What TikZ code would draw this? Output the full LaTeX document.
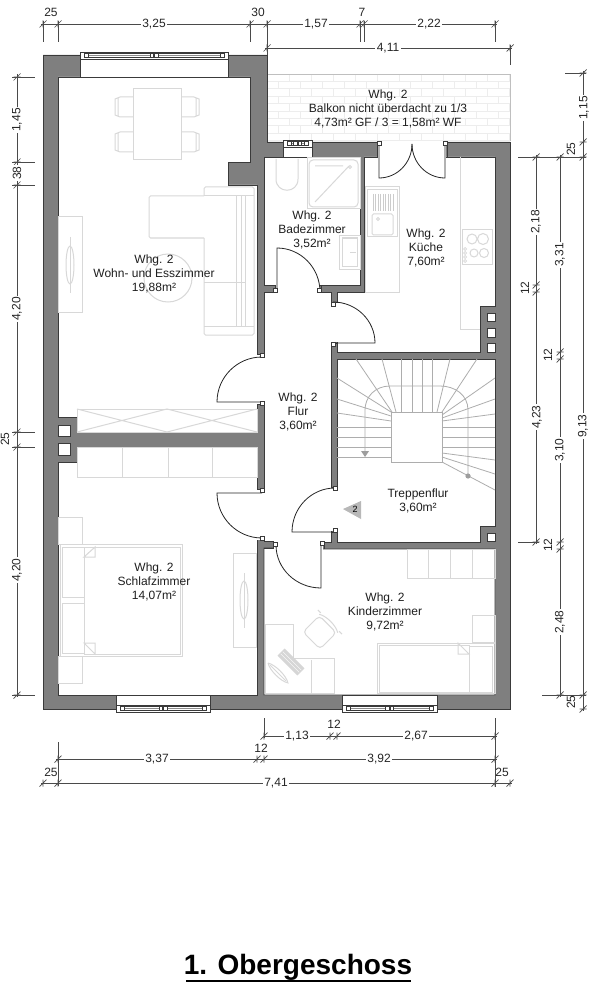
\documentclass[tikz,border=0pt]{standalone}
\usepackage{fontspec}
\setmainfont{Liberation Sans}
\definecolor{wallc}{HTML}{7F7F7F}
\definecolor{linec}{HTML}{3A3A3A}
\definecolor{furn}{HTML}{D8D8D8}
\definecolor{brick}{HTML}{EDEDED}
\definecolor{dimc}{HTML}{4A4A4A}
\tikzset{
  wall/.style={fill=wallc,draw=linec,line width=.7pt,line join=miter},
  room/.style={fill=white,draw=linec,line width=.9pt,line join=miter},
  open/.style={fill=white,draw=none},
  furniture/.style={draw=furn,line width=1pt,fill=none},
  doorline/.style={draw=black!85,line width=.8pt},
  jamb/.style={fill=white,draw=linec,line width=.6pt},
  treadline/.style={draw=black!32,line width=.8pt},
  dimline/.style={draw=dimc,line width=.7pt},
  label/.style={align=center,inner sep=0pt,font=\fontsize{12}{13.9}\selectfont,text=black!88},
  dimh/.style={inner sep=1.5pt,fill=white,font=\fontsize{12}{14}\selectfont,text=black!85},
  dimv/.style={dimh,rotate=90},
  dimtop/.style={inner sep=0pt,font=\fontsize{12}{14}\selectfont,text=black!85},
  dimside/.style={dimtop,rotate=90},
}
\newcommand\door[6]{%
  \draw[doorline] (#1,#2) -- ({#1+#3},{#2+#4})
    .. controls ({#1+#3+.552*#5},{#2+#4+.552*#6}) and ({#1+#5+.552*#3},{#2+#6+.552*#4}) .. ({#1+#5},{#2+#6});}
\newcommand\jambat[2]{\draw[jamb] ({#1-1.8},{#2-2}) rectangle ({#1+1.8},{#2+2});}
\newcommand\win[5]{% x1 x2 stripTop stripBottom inner
  \pgfmathsetmacro\wm{(#1+#2)/2}
  \ifnum#5>#4\relax \path[open] (#1,#4) rectangle (#2,#5); \draw[draw=linec,line width=.8pt] (#1,#4) rectangle (#2,#5);
  \else \path[open] (#1,#5) rectangle (#2,#3); \draw[draw=linec,line width=.8pt] (#1,#5) rectangle (#2,#3); \fi
  \draw[fill=white,draw=linec,line width=.7pt] (#1,#3) rectangle (#2,#4);
  \draw[draw=linec,line width=.9pt] ({#1+5},{#3+1.5}) -- ({#2-5},{#3+1.5}) ({#1+5},{#4-1.5}) -- ({#2-5},{#4-1.5});
  \draw[draw=black!45,line width=.7pt] ({#1+5},{(#3+#4)/2}) -- ({#2-5},{(#3+#4)/2});
  \foreach \wx in {{#1+6},{\wm-2.2},{\wm+2.2},{#2-6}} {\draw[jamb] ({\wx-1.8},{(#3+#4)/2-2}) rectangle ({\wx+1.8},{(#3+#4)/2+2});}
}
\newcommand\chairL[2]{\draw[furniture] (#1,#2) -- ({#1-13},{#2}) -- ({#1-18},{#2+2}) -- ({#1-18},{#2+18}) -- ({#1-13},{#2+20}) -- (#1,{#2+20}) ({#1-15},{#2+1}) -- ({#1-15},{#2+19});}
\newcommand\chairR[2]{\draw[furniture] (#1,#2) -- ({#1+13},{#2}) -- ({#1+18},{#2+2}) -- ({#1+18},{#2+18}) -- ({#1+13},{#2+20}) -- (#1,{#2+20}) ({#1+15},{#2+1}) -- ({#1+15},{#2+19});}
\begin{document}
\begin{tikzpicture}[x=1pt,y=-1pt]
\useasboundingbox (0,0) rectangle (601,1000);
% balcony
\begin{scope}
\clip (267,74) rectangle (510,141);
\foreach \r in {0,...,9} {
  \draw[brick,line width=.6pt] (267,{74+7.4*\r}) -- (510,{74+7.4*\r});
  \pgfmathsetmacro\off{mod(\r,2)*11}
  \foreach \c in {0,...,11} {\draw[brick,line width=.6pt] ({267+\off+22*\c},{74+7.4*\r}) -- ({267+\off+22*\c},{74+7.4*\r+7.4});}
}
\end{scope}
\draw[draw=black!25,line width=.8pt] (267,141) -- (267,74) -- (510,74) -- (510,141);
% building body
\draw[wall] (43,55) -- (267,55) -- (267,142) -- (510,142) -- (510,709) -- (43,709) -- cycle;
% rooms
\draw[room] (58,77) -- (250,77) -- (250,162) -- (228,162) -- (228,185) -- (257,185) -- (257,432) -- (77,432) -- (77,417) -- (58,417) -- cycle;
\draw[room] (58,462) -- (77,462) -- (77,447) -- (257,447) -- (257,695) -- (58,695) -- cycle;
\draw[room] (264,157) -- (360,157) -- (360,285) -- (264,285) -- cycle;
\draw[room] (264,292) -- (331,292) -- (331,542) -- (324,542) -- (324,541) -- (264,541) -- cycle;
\draw[room] (337,292) -- (364,292) -- (364,157) -- (495,157) -- (495,306) -- (480,306) -- (480,352) -- (337,352) -- cycle;
\draw[room] (337,359) -- (495,359) -- (495,526) -- (480,526) -- (480,542) -- (337,542) -- cycle;
\draw[room] (264,548) -- (324,549) -- (495,549) -- (495,695) -- (264,695) -- cycle;
% door openings
\path[open] (256,354) rectangle (265,404);
\path[open] (256,489) rectangle (265,540);
\path[open] (276,284) rectangle (320,293);
\path[open] (330,303) rectangle (338,342);
\path[open] (330,488) rectangle (338,531);
\path[open] (274,540) rectangle (323,550);
\path[open] (378,141) rectangle (446,158);
\draw[draw=linec,line width=.9pt] (257,354) -- (264,354) (257,404) -- (264,404) (257,489) -- (264,489);
% wall fragments that frame the openings
\draw[draw=linec,line width=.9pt] (264,541) -- (273,541) -- (273,548) -- (264,548);
\draw[draw=linec,line width=.9pt] (264,285) -- (275,285) -- (275,292) -- (264,292);
\draw[draw=linec,line width=.9pt] (321,285) -- (321,292);
\draw[draw=linec,line width=.9pt] (324,542) -- (324,549);
\draw[draw=linec,line width=.9pt] (331,302) -- (337,302) (331,343) -- (337,343) (331,487) -- (337,487) (331,532) -- (337,532);
\draw[draw=linec,line width=.9pt] (377,142) -- (377,157) (447,142) -- (447,157);
% flue squares
\foreach \a/\b/\c/\d in {58/425/70/436,58/443/70/455,487/313/495/321,487/328/495/337,487/343/495/352,487/533/495/541}
  \draw[fill=white,draw=linec,line width=.8pt] (\a,\b) rectangle (\c,\d);
% windows
\win{80}{228}{52}{59}{77}
\win{116}{210}{705}{712}{695}
\win{342}{437}{705}{712}{695}
\win{283}{312}{140}{147}{157}
% doors
\door{262}{402}{-45}{0}{0}{-45}
\door{262}{493}{-45}{0}{0}{45}
\door{277}{292}{0}{-44}{43}{0}
\door{333}{343}{42}{0}{0}{-41}
\door{379}{144}{0}{34}{33}{0}
\door{445}{144}{0}{34}{-33}{0}
\door{335}{532}{-43}{0}{0}{-44}
\door{321}{545}{0}{43}{-45}{0}
\foreach \a/\b in {262/355,262/403,262/490,262/538,275/290,319/290,333/304,333/344,379/143,445/143,335/488,335/530,275/544,322/543}
  \jambat{\a}{\b}
% dining
\draw[furniture] (133,89) rectangle (181,160);
\chairL{133}{97}\chairL{133}{132}\chairR{181}{97}\chairR{181}{132}
% sofa
\draw[furniture,rounded corners=1.5pt] (204,196) -- (149,196) -- (149,238) -- (204,238);
\draw[furniture,rounded corners=1.5pt] (204,196) -- (204,187) -- (254,187) -- (254,335) -- (204,335) -- (204,238);
\draw[furniture] (204,196) -- (254,196) (204,282) -- (245,282) (204,326) -- (254,326) (236,196) -- (236,326) (241,196) -- (241,326) (245,196) -- (245,326);
\draw[furniture] (168,278) circle[radius=24];
% TV units
\draw[furniture] (58,217) rectangle (82,312);
\draw[furniture] (70,265) ellipse[x radius=4,y radius=19];
\draw[furniture] (70,237) -- (70,293);
\draw[furniture] (233,553) rectangle (256,647);
\draw[furniture] (244,600) ellipse[x radius=4,y radius=19];
\draw[furniture] (244,573) -- (244,628);
% closets
\draw[furniture] (77,409) rectangle (257,432);
\draw[furniture] (77,432) -- (167,409) -- (257,432) (77,409) -- (167,432) -- (257,409);
\draw[furniture] (77,447) rectangle (257,477) (122,447) -- (122,477) (168,447) -- (168,477) (212,447) -- (212,477);
% bedroom
\draw[furniture] (60,544) rectangle (182,656);
\draw[furniture] (84,547) rectangle (180,654);
\draw[furniture] (84,557) -- (95,547) -- (95,557) -- cycle (84,643) -- (95,654) -- (95,643) -- cycle;
\draw[furniture] (62,547) rectangle (84,597) (62,603) rectangle (84,653);
\draw[furniture] (58,517) rectangle (82,544) (58,656) rectangle (82,683);
% children's room
\draw[furniture] (265,624) -- (293,624) -- (293,658) -- (334,658) -- (334,693) -- (265,693) -- cycle;
\draw[furniture] (311,660) -- (311,693);
\draw[furniture] (407,549) rectangle (495,578) (428,549) -- (428,578) (450,549) -- (450,578) (472,549) -- (472,578);
\draw[furniture] (472,615) rectangle (495,642);
\draw[furniture] (377,643) rectangle (495,693);
\draw[furniture] (379,645) rectangle (469,692);
\draw[furniture] (458,643) -- (469,654) -- (458,654) -- cycle;
\draw[furniture] (469,646) rectangle (492,692);
\begin{scope}[shift={(320,632)},rotate=-45]
  \draw[furniture,rounded corners=4pt] (-12,-11) rectangle (12,12);
  \draw[furniture] (-13,-12) .. controls (-7,-16) and (7,-16) .. (13,-12);
  \draw[furniture] (-17,-14) -- (-13,-14) (13,-14) -- (17,-14);
\end{scope}
\begin{scope}[shift={(291,662)},rotate=-45]
  \fill[black!16] (-14,-5) rectangle (14,5);
  \draw[white,line width=.5pt] (-13,-1.5) -- (13,-1.5) (-13,1.5) -- (13,1.5);
\end{scope}
\begin{scope}[shift={(278,673)},rotate=-45]
  \draw[furniture] (-14,0) .. controls (-8,-4) and (8,-4) .. (14,0) .. controls (8,4) and (-8,4) .. (-14,0);
  \draw[furniture] (-11,0) -- (11,0);
\end{scope}
% kitchen
\draw[furniture] (460,157) -- (460,329) -- (480,329);
\draw[furniture] (365,187) rectangle (399,292);
\draw[furniture] (367,190) rectangle (397,237);
\draw[furniture,rounded corners=1.5pt] (372,214) rectangle (393,235);
\draw[furniture] (378,219) circle[radius=1.5];
\foreach \x in {373,375.5,...,393} \draw[draw=black!20,line width=.7pt] (\x,194) -- (\x,211);
\draw[furniture] (462,230) rectangle (492,264);
\draw[furniture] (472,239) circle[radius=5] (483,239) circle[radius=5.5] (474,253) circle[radius=4] (484,253) circle[radius=4.5];
\foreach \y in {249,253,257,261} \draw[furniture,line width=.7pt] (465,\y) circle[radius=1.5];
% bathroom
\draw[furniture] (276,159) -- (276,179) .. controls (276,194) and (298,194) .. (298,179) -- (298,159);
\draw[furniture] (307,158) rectangle (360,209);
\draw[furniture,rounded corners=4pt] (309,160) rectangle (358,207);
\draw[furniture] (315,202) -- (349,166) (315,166) -- (343,166);
\draw[furniture] (350,167) circle[radius=1.5];
\draw[furniture] (339,236) rectangle (360,269);
\draw[furniture] (342,238) rectangle (357,266);
\draw[furniture] (350,252) -- (356,252);
% stairs
\begin{scope}
\draw[treadline] (391,412) rectangle (442,462);
\foreach \a/\b/\c/\d in {
 356/359/392/412, 382/359/396/412, 401/359/401/412, 412/359/412/412, 422/359/422/412, 432/359/432/412, 450/359/437/412, 477/359/442/412,
 337/378/391/412, 337/399/391/416, 337/413/391/421, 337/427/391/427, 337/437/391/437, 337/447/391/447, 337/457/391/457,
 495/378/442/415, 495/399/442/418, 495/414/442/421, 495/427/442/427, 495/437/442/437, 495/447/442/447, 495/460/442/453, 495/474/442/457, 495/490/442/462}
  \draw[treadline] (\a,\b) -- (\c,\d);
\draw[treadline] (468,476) -- (468,410) .. controls (468,395) and (455,386) .. (440,386) -- (390,386) .. controls (375,386) and (365,397) .. (365,410) -- (365,452);
\fill[black!38] (361,451) -- (369,451) -- (365,457) -- cycle;
\fill[black!38] (468,476) circle[radius=2.6];
\end{scope}
\fill[black!28] (343,509) -- (361,501) -- (361,519) -- cycle;
\node[font=\fontsize{9}{10}\selectfont,inner sep=0pt] (level) at (355,509) {2};
% room labels
\node[label] (balkon) at (388,109) {Whg. 2\\Balkon nicht überdacht zu 1/3\\4,73m² GF / 3 = 1,58m² WF};
\node[label] (bad) at (312,230) {Whg. 2\\Badezimmer\\3,52m²};
\node[label] (kueche) at (426,248) {Whg. 2\\Küche\\7,60m²};
\node[label] (wohn) at (154,274) {Whg. 2\\Wohn- und Esszimmer\\19,88m²};
\node[label] (flur) at (298,412) {Whg. 2\\Flur\\3,60m²};
\node[label] (treppe) at (418,501) {Treppenflur\\3,60m²};
\node[label] (schlaf) at (154,582) {Whg. 2\\Schlafzimmer\\14,07m²};
\node[label] (kinder) at (385,612) {Whg. 2\\Kinderzimmer\\9,72m²};
% dimension lines
\draw[dimline] (41,24) -- (497,24) (265,48) -- (512,48) (264,736) -- (497,736) (56,759) -- (497,759) (41,783) -- (512,783);
\draw[dimline] (17,74) -- (17,697) (536,155) -- (536,544) (560,155) -- (560,697) (583,71) -- (583,711);
\foreach \x in {43,58,250,360,364,495} \draw[dimline] (\x,21) -- (\x,42);
\draw[dimline] (267,21) -- (267,55) (510,45) -- (510,65);
\foreach \y in {77,162,185,432,447,695} \draw[dimline] (12,\y) -- (35,\y);
\draw[dimline] (518,157) -- (586,157) (565,73) -- (586,73) (518,542) -- (539,542) (542,695) -- (586,695);
\draw[dimline] (264,718) -- (264,738) (495,718) -- (495,787) (58,742) -- (58,786);
\foreach \x/\y in {43/24,58/24,250/24,267/24,360/24,364/24,495/24,267/48,510/48,264/736,330/736,337/736,495/736,58/759,257/759,264/759,495/759,43/783,58/783,495/783,510/783}
  \draw[dimline] ({\x-3.5},{\y+3.5}) -- ({\x+3.5},{\y-3.5}) (\x,{\y-3.5}) -- (\x,{\y+3.5});
\foreach \x/\y in {17/77,17/162,17/185,17/432,17/447,17/695,536/157,536/285,536/292,536/542,560/157,560/352,560/359,560/542,560/549,560/695,583/73,583/142,583/157,583/695,583/709}
  \draw[dimline] ({\x-3.5},{\y+3.5}) -- ({\x+3.5},{\y-3.5}) ({\x-3.5},\y) -- ({\x+3.5},\y);
\foreach \x/\y/\t [count=\i] in {154/24/{3,25},316/24/{1,57},429/24/{2,22},388/48/{4,11},297/736/{1,13},416/736/{2,67},157/759/{3,37},379/759/{3,92},276/783/{7,41}}
  \node[dimh] (dh\i) at (\x,\y) {\t};
\foreach \x/\y/\t [count=\i] in {17/120/{1,45},17/173/{38},17/309/{4,20},17/570/{4,20},536/222/{2,18},537/417/{4,23},560/255/{3,31},560/450/{3,10},560/622/{2,48},584/108/{1,15},583/426/{9,13}}
  \node[dimv] (dv\i) at (\x,\y) {\t};
\foreach \x/\y/\t [count=\i] in {51/12/{25},258/12/{30},362/12/{7},334/724/{12},261/748/{12},51/772/{25},502/772/{25}}
  \node[dimtop] (dt\i) at (\x,\y) {\t};
\foreach \x/\y/\t [count=\i] in {5/439/{25},525/288/{12},548/355/{12},548/545/{12},571/149/{25},571/702/{25}}
  \node[dimside] (ds\i) at (\x,\y) {\t};
% title
\node[inner sep=0pt,font=\fontsize{28}{30}\bfseries\selectfont] (title) at (298,967) {1. Obergeschoss};
\draw[line width=2pt,draw=black] (186,981) -- (411,981);
\end{tikzpicture}
\end{document}
